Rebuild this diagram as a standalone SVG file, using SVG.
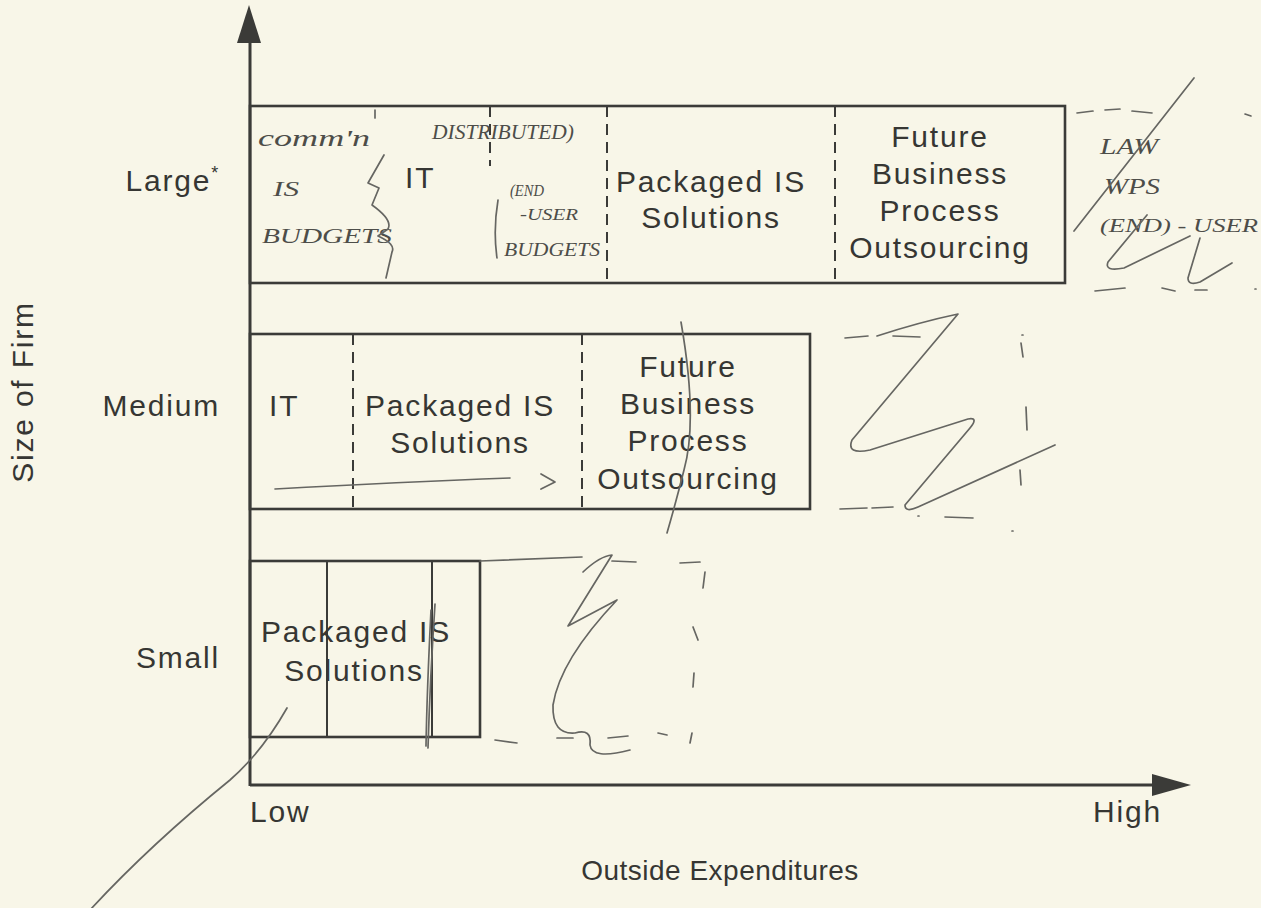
<svg xmlns="http://www.w3.org/2000/svg" width="1261" height="908" viewBox="0 0 1261 908">
  <style>
    .t { font-family: "Liberation Sans", Arial, Helvetica, sans-serif; font-size: 30px; fill: #363633; letter-spacing: 1.8px; }
    .mid { text-anchor: middle; }
    .end { text-anchor: end; }
    .box { fill: none; stroke: #3b3b38; stroke-width: 2.6; }
    .axis { fill: none; stroke: #3b3b38; stroke-width: 3; }
    .head { fill: #3b3b38; }
    .dash { stroke: #3b3b38; stroke-width: 2; stroke-dasharray: 11 7; }
    .solid { stroke: #3b3b38; stroke-width: 2; }
    .hand { fill: none; stroke: #666662; stroke-width: 1.7; stroke-linecap: round; stroke-linejoin: round; }
    .ht { font-family: "Liberation Serif", "DejaVu Serif", serif; font-style: italic; fill: #4d4d49; }
  </style>

  <rect width="1261" height="908" fill="#f8f6e8"/>

  <!-- axes -->
  <g id="axes">
    <line class="axis" x1="250" y1="40" x2="250" y2="786"/>
    <polygon class="head" points="249,5 237,43 261,43"/>
    <line class="axis" x1="250" y1="785" x2="1155" y2="785"/>
    <polygon class="head" points="1191,785 1152,774 1152,796"/>
    <text class="t" transform="translate(33,392) rotate(-90)" text-anchor="middle">Size of Firm</text>
    <text class="t" x="250" y="822">Low</text>
    <text class="t" x="1093" y="822">High</text>
    <text class="t mid" x="720" y="880" style="font-size:28px;letter-spacing:0.5px">Outside Expenditures</text>
  </g>

  <!-- row labels -->
  <g id="row-labels">
    <text class="t end" x="220" y="191">Large<tspan font-size="18" dy="-12">*</tspan></text>
    <text class="t end" x="220" y="416">Medium</text>
    <text class="t end" x="220" y="668">Small</text>
  </g>

  <!-- large firms -->
  <g id="large">
    <rect class="box" x="250" y="106" width="815" height="177"/>
    <line class="dash" x1="490" y1="106" x2="490" y2="166"/>
    <line class="dash" x1="607" y1="106" x2="607" y2="283"/>
    <line class="dash" x1="835" y1="106" x2="835" y2="283"/>
    <text class="t" x="405" y="188">IT</text>
    <text class="t mid" x="711" y="192">Packaged IS</text>
    <text class="t mid" x="711" y="228">Solutions</text>
    <text class="t mid" x="940" y="147">Future</text>
    <text class="t mid" x="940" y="184">Business</text>
    <text class="t mid" x="940" y="221">Process</text>
    <text class="t mid" x="940" y="258">Outsourcing</text>
  </g>

  <!-- medium firms -->
  <g id="medium">
    <rect class="box" x="250" y="334" width="560" height="175"/>
    <line class="dash" x1="353" y1="334" x2="353" y2="509"/>
    <line class="dash" x1="582" y1="334" x2="582" y2="509"/>
    <text class="t" x="269" y="416">IT</text>
    <text class="t mid" x="460" y="416">Packaged IS</text>
    <text class="t mid" x="460" y="453">Solutions</text>
    <text class="t mid" x="688" y="377">Future</text>
    <text class="t mid" x="688" y="414">Business</text>
    <text class="t mid" x="688" y="451">Process</text>
    <text class="t mid" x="688" y="489">Outsourcing</text>
  </g>

  <!-- small firms -->
  <g id="small">
    <rect class="box" x="250" y="561" width="230" height="176"/>
    <line class="solid" x1="327" y1="561" x2="327" y2="737"/>
    <line class="solid" x1="432" y1="561" x2="432" y2="737"/>
    <text class="t mid" x="356" y="642">Packaged IS</text>
    <text class="t mid" x="354" y="681">Solutions</text>
  </g>

  <!-- pen annotations -->
  <g id="annotations">
    <!-- large row -->
    <text class="ht" x="258" y="146" font-size="24" textLength="112" lengthAdjust="spacingAndGlyphs">comm'n</text>
    <text class="ht" x="273" y="196" font-size="20" textLength="26" lengthAdjust="spacingAndGlyphs">IS</text>
    <text class="ht" x="262" y="243" font-size="22" textLength="130" lengthAdjust="spacingAndGlyphs">BUDGETS</text>
    <text class="ht" x="432" y="139" font-size="20" textLength="142" lengthAdjust="spacingAndGlyphs">DISTRIBUTED)</text>
    <text class="ht" x="510" y="196" font-size="16" textLength="34" lengthAdjust="spacingAndGlyphs">(END</text>
    <text class="ht" x="520" y="220" font-size="16" textLength="58" lengthAdjust="spacingAndGlyphs">-USER</text>
    <text class="ht" x="504" y="256" font-size="18" textLength="96" lengthAdjust="spacingAndGlyphs">BUDGETS</text>
    <path class="hand" d="M375,110 L375,118"/>
    <path class="hand" d="M384,155 L368,183 L379,188 L372,205 Q393,220 388,229 L378,236 Q396,244 392,252 L386,278"/>
    <path class="hand" d="M498,200 Q493,230 497,258"/>

    <!-- right of large row -->
    <text class="ht" x="1100" y="154" font-size="24" textLength="58" lengthAdjust="spacingAndGlyphs">LAW</text>
    <text class="ht" x="1104" y="194" font-size="24" textLength="56" lengthAdjust="spacingAndGlyphs">WPS</text>
    <text class="ht" x="1100" y="232" font-size="18" textLength="158" lengthAdjust="spacingAndGlyphs">(END) - USER</text>
    <path class="hand" d="M1074,231 L1194,78"/>
    <path class="hand" d="M1077,113 L1093,111 M1105,110 L1120,109 M1132,111 L1152,113 M1245,114 L1251,116"/>
    <path class="hand" d="M1147,215 L1108,262 Q1104,272 1124,268 L1190,236"/>
    <path class="hand" d="M1200,238 L1188,278 Q1188,286 1200,282 L1232,263"/>
    <path class="hand" d="M1095,291 L1125,288 M1162,288 L1175,291 M1195,290 L1207,290 M1255,289 L1256,289"/>

    <!-- medium row -->
    <path class="hand" d="M275,489 Q400,482 510,478"/>
    <path class="hand" d="M541,474 L555,482 L541,489"/>
    <path class="hand" d="M681,322 Q698,420 684,470 Q676,502 667,533"/>
    <path class="hand" d="M877,336 Q920,322 958,314 L852,440 Q846,455 870,450 L968,419 Q979,417 970,428 L905,505 Q905,513 918,507 L1055,445"/>
    <path class="hand" d="M845,338 L868,336 M893,336 L920,337 M840,509 L867,508 M872,508 L893,507 M945,517 L973,518"/>
    <path class="hand" d="M918,516 L919,516 M1022,335 L1023,335 M1012,531 L1013,531 M1021,343 L1023,357 M1026,407 L1027,430 M1020,470 L1021,485"/>

    <!-- small row -->
    <path class="hand" d="M480,561 Q530,559 582,557"/>
    <path class="hand" d="M583,572 Q600,556 612,555 L568,626 L617,600 Q560,660 553,705 Q552,735 575,733 Q592,728 590,745 Q592,760 630,750"/>
    <path class="hand" d="M612,561 L636,562 M680,563 L700,562 M705,572 L703,588 M693,627 L698,640 M694,673 L693,687 M692,733 L690,743"/>
    <path class="hand" d="M495,740 L517,743 M557,738 L573,738 M608,738 L628,736 M658,733 L667,735"/>
    <path class="hand" d="M435,604 Q430,680 428,748 M431,610 Q427,690 426,746"/>
    <path class="hand" d="M287,708 Q262,752 230,780 Q150,845 90,910"/>
  </g>
</svg>
